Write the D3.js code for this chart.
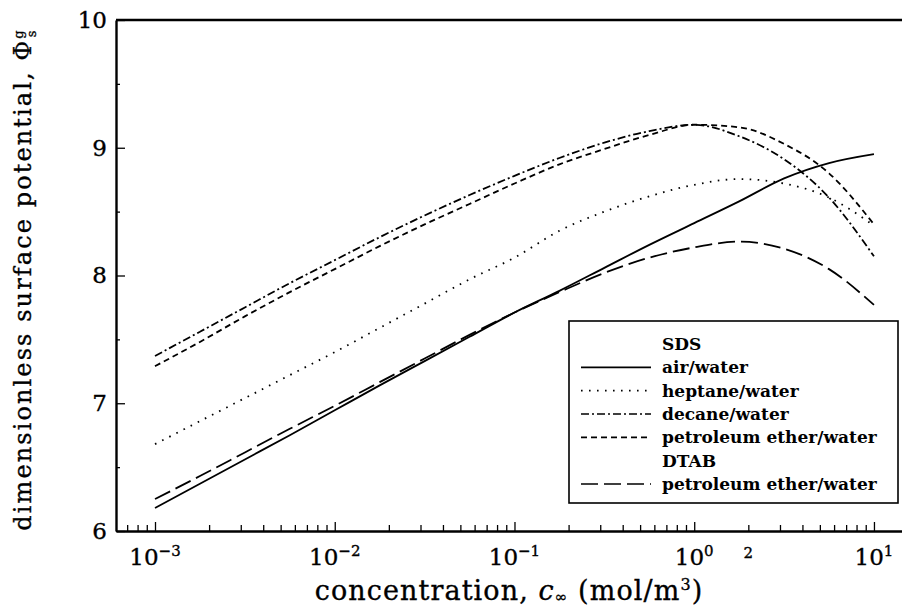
<!DOCTYPE html>
<html>
<head>
<meta charset="utf-8">
<script src="https://d3js.org/d3.v7.min.js"></script>
<style>
body { margin: 0; background: #fff; }
text { font-family: "DejaVu Serif", serif; fill: #000; }
.axis path, .axis line { stroke: #000; }
.heavy { stroke: #000; stroke-width: 0.35; }
</style>
</head>
<body>
<svg id="chart" width="902" height="614"></svg>
<script>
// log10 of concentration (mol/m3)
var logC = [-3, -2.75, -2.5, -2.25, -2, -1.75, -1.5, -1.25, -1, -0.75, -0.5, -0.25, 0, 0.25, 0.5, 0.75, 1];

// SDS
var airWater    = [6.18, 6.37, 6.56, 6.75, 6.945, 7.14, 7.33, 7.52, 7.71, 7.88, 8.06, 8.24, 8.41, 8.58, 8.76, 8.88, 8.95];
var heptane     = [6.68, 6.86, 7.04, 7.22, 7.40, 7.59, 7.78, 7.97, 8.14, 8.35, 8.50, 8.62, 8.71, 8.755, 8.72, 8.61, 8.39];
var decane      = [7.37, 7.56, 7.75, 7.94, 8.12, 8.30, 8.47, 8.63, 8.78, 8.92, 9.04, 9.13, 9.18, 9.09, 8.91, 8.61, 8.15];
var petroSDS    = [7.29, 7.48, 7.68, 7.87, 8.05, 8.23, 8.40, 8.56, 8.72, 8.87, 8.99, 9.10, 9.18, 9.16, 9.03, 8.80, 8.40];
// DTAB
var petroDTAB   = [6.25, 6.43, 6.615, 6.80, 6.98, 7.165, 7.35, 7.535, 7.71, 7.87, 8.02, 8.14, 8.22, 8.265, 8.21, 8.05, 7.77];

var yTicks = [6, 7, 8, 9, 10];
var yMinor = [6.5, 7.5, 8.5, 9.5];
var xDecades = [-3, -2, -1, 0, 1];

var series = [
  { name: "air/water", values: airWater, dash: null },
  { name: "heptane/water", values: heptane, dash: "1.6,6.4" },
  { name: "decane/water", values: decane, dash: "8,3,2,3" },
  { name: "petroleum ether/water", values: petroSDS, dash: "6,4" },
  { name: "petroleum ether/water", values: petroDTAB, dash: "17,6" }
];

var legendRows = [
  { label: "SDS" },
  { label: "air/water", s: series[0] },
  { label: "heptane/water", s: series[1] },
  { label: "decane/water", s: series[2] },
  { label: "petroleum ether/water", s: series[3] },
  { label: "DTAB" },
  { label: "petroleum ether/water", s: series[4] }
];

var svg = d3.select("#chart");
var pLeft = 116, pRight = 902, pTop = 20, pBottom = 531;

var x = d3.scaleLog()
  .domain([Math.pow(10, -3.217), Math.pow(10, 1.156)])
  .range([pLeft, pRight]);
var y = d3.scaleLinear().domain([6, 10]).range([pBottom, pTop]);

// top frame line
svg.append("line")
  .attr("x1", pLeft).attr("x2", pRight)
  .attr("y1", pTop).attr("y2", pTop)
  .attr("stroke", "#000").attr("stroke-width", 2.6);

// y axis
svg.append("g").attr("class", "axis")
  .attr("transform", "translate(" + pLeft + ",0)")
  .call(d3.axisLeft(y).tickValues(yTicks).tickSize(-9).tickSizeOuter(0).tickPadding(9).tickFormat(d3.format("d")))
  .call(g => g.select(".domain").attr("stroke-width", 2.4))
  .call(g => g.selectAll("line").attr("stroke-width", 1.3))
  .call(g => g.selectAll("text").attr("class", "heavy").attr("font-size", 23).attr("font-family", "DejaVu Serif"));

svg.append("g").attr("class", "axis")
  .attr("transform", "translate(" + pLeft + ",0)")
  .call(d3.axisLeft(y).tickValues(yMinor).tickSize(-4).tickSizeOuter(0).tickFormat(""))
  .call(g => g.select(".domain").remove())
  .call(g => g.selectAll("line").attr("stroke-width", 1.3));

// x axis
var majors = xDecades.map(e => Math.pow(10, e));
var minors = [];
for (var e = -4; e <= 0; e++) {
  for (var m = 2; m <= 9; m++) {
    var v = m * Math.pow(10, e);
    if (v >= 7e-4 && v < 10) minors.push(v);
  }
}

svg.append("g").attr("class", "axis")
  .attr("transform", "translate(0," + pBottom + ")")
  .call(d3.axisBottom(x).tickValues(majors).tickSize(-9).tickSizeOuter(0).tickFormat(""))
  .call(g => g.select(".domain").attr("stroke-width", 2.4))
  .call(g => g.selectAll("line").attr("stroke-width", 1.3));

svg.append("g").attr("class", "axis")
  .attr("transform", "translate(0," + pBottom + ")")
  .call(d3.axisBottom(x).tickValues(minors).tickSize(-6).tickSizeOuter(0).tickFormat(""))
  .call(g => g.select(".domain").remove())
  .call(g => g.selectAll("line").attr("stroke-width", 1.3));

var xl = svg.append("g").selectAll("text").data(xDecades).enter().append("text")
  .attr("class", "heavy")
  .attr("x", d => x(Math.pow(10, d)))
  .attr("y", 565)
  .attr("text-anchor", "middle")
  .attr("font-size", 23);
xl.append("tspan").text("10");
xl.append("tspan").attr("dy", -9).attr("font-size", 15)
  .text(d => d < 0 ? "\u2212" + (-d) : String(d));

svg.append("text")
  .attr("class", "heavy")
  .attr("x", x(2)).attr("y", 558)
  .attr("text-anchor", "middle")
  .attr("font-size", 15)
  .text("2");

// axis titles
var xt = svg.append("text")
  .attr("class", "heavy")
  .attr("x", (pLeft + pRight) / 2).attr("y", 600)
  .attr("text-anchor", "middle")
  .attr("font-size", 27)
  .attr("letter-spacing", 1.1);
xt.append("tspan").text("concentration, ");
xt.append("tspan").attr("font-style", "italic").text("c");
xt.append("tspan").attr("font-size", 15).attr("dy", 2).text("\u221e");
xt.append("tspan").attr("dy", -2).text(" (mol/m");
xt.append("tspan").attr("font-size", 16).attr("dy", -10).text("3");
xt.append("tspan").attr("dy", 10).text(")");

var yt = svg.append("text")
  .attr("class", "heavy")
  .attr("transform", "translate(31," + ((pTop + pBottom) / 2 + 4) + ") rotate(-90)")
  .attr("text-anchor", "middle")
  .attr("font-size", 24)
  .attr("letter-spacing", 2.1);
yt.append("tspan").text("dimensionless surface potential, \u03a6");
yt.append("tspan").attr("font-size", 13).attr("dy", -8).text("g");
yt.append("tspan").attr("font-size", 13).attr("dx", -9).attr("dy", 13).text("s");

// curves
var line = d3.line()
  .x((d, i) => x(Math.pow(10, logC[i])))
  .y(d => y(d))
  .curve(d3.curveMonotoneX);

svg.append("g").selectAll("path").data(series).enter().append("path")
  .attr("d", d => line(d.values))
  .attr("fill", "none")
  .attr("stroke", "#000")
  .attr("stroke-width", 1.8)
  .attr("stroke-dasharray", d => d.dash);

// legend
var lg = svg.append("g");
lg.append("rect")
  .attr("x", 569).attr("y", 321).attr("width", 329).attr("height", 182)
  .attr("fill", "#fff").attr("stroke", "#000").attr("stroke-width", 1.6);

var rowY = d3.scaleLinear().domain([0, 6]).range([344, 484]);
var row = lg.selectAll("g.row").data(legendRows).enter().append("g")
  .attr("transform", (d, i) => "translate(0," + rowY(i) + ")");
row.filter(d => d.s).append("line")
  .attr("x1", 581).attr("x2", 651)
  .attr("stroke", "#000").attr("stroke-width", 1.6)
  .attr("stroke-dasharray", d => d.s.dash);
row.append("text")
  .attr("x", 662).attr("dy", "0.36em")
  .attr("font-size", 17).attr("font-weight", "bold")
  .text(d => d.label);
</script>
</body>
</html>
